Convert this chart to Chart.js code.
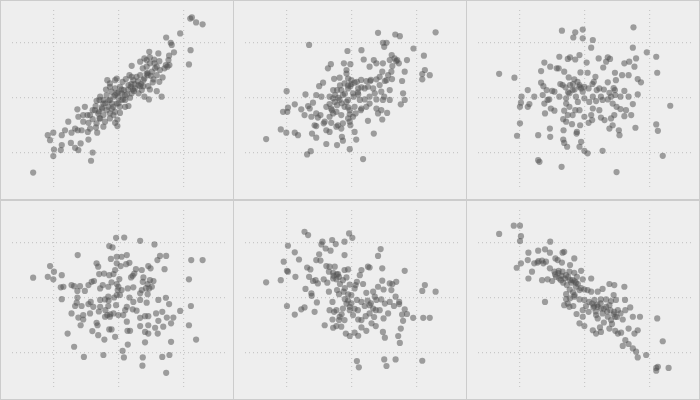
<!DOCTYPE html>
<html>
<head>
<meta charset="utf-8">
<script src="https://cdn.jsdelivr.net/npm/chart.js@4/dist/chart.umd.min.js"></script>
<style>
  html, body { margin: 0; padding: 0; background: #cccccc; }
  #wrap { position: relative; width: 700px; height: 400px; background: #cccccc; }
  .cell { position: absolute; width: 232px; height: 198px; background: #eeeeee; }
</style>
</head>
<body>
<div id="wrap"></div>
<script>
// grid ticks shown as dotted lines, no labels
const gridTicks = [-2, 0, 2];

// [x, y] values, left to right, top to bottom
const panel1 = [
  [2.21,2.88],[2.26,2.92],[2.39,2.74],[2.59,2.67],[1.90,2.34],[1.47,2.19],[1.61,2.0],[1.64,1.92],[2.22,1.73],[2.17,1.21],
  [1.71,1.65],[1.56,1.53],[1.23,1.61],[0.95,1.67],[0.80,1.43],[0.87,1.37],[1.10,1.39],[1.26,1.33],[0.97,1.25],[1.46,1.19],
  [1.51,1.13],[1.42,1.07],[1.57,1.19],[1.13,1.07],[1.03,0.95],[0.87,0.88],[0.75,1.07],[0.41,1.16],[0.56,0.76],[0.67,0.82],
  [0.90,0.82],[1.18,0.82],[1.36,0.74],[1.26,0.58],[1.06,0.56],[0.92,0.42],[0.77,0.42],[0.67,0.42],[0.72,0.28],[0.97,0.30],
  [1.18,0.24],[1.33,0.04],[0.94,-0.06],[0.80,0.04],[0.51,0.34],[0.41,0.16],[0.36,0],[0.26,0.12],[0.17,0.28],[0.05,0.40],
  [-0.05,0.70],[-0.34,0.64],[-0.26,0.40],[-0.10,0.34],[0.13,0.58],[0.34,0.82],[0.46,0.64],[0.62,0.46],[0.31,0.46],[0.10,-0.08],
  [0,0],[-0.05,-0.21],[-0.15,-0.33],[-0.26,-0.08],[-0.36,0.10],[-0.46,-0.08],[-0.58,-0.08],[-0.67,-0.11],[-0.51,-0.35],[-0.36,-0.45],
  [-0.26,-0.57],[-0.10,-0.51],[0.05,-0.55],[-0.03,-0.79],[-0.03,-1.03],[-0.10,-0.91],[-0.26,-0.75],[-0.46,-0.63],[-0.58,-0.75],[-0.79,-0.78],
  [-0.87,-0.63],[-0.79,-0.45],[-1.03,-0.33],[-1.26,-0.42],[-1.23,-0.69],[-1.08,-0.63],[-1.08,-0.87],[-0.92,-0.91],[-0.67,-0.93],[-0.69,-1.08],
  [-0.46,-1.05],[-0.65,-1.27],[-0.94,-1.24],[-1.13,-1.18],[-1.25,-1.18],[-1.33,-1.12],[-1.44,-1.27],[-1.54,-0.87],[-1.64,-1.18],[-1.74,-1.36],
  [-1.74,-1.72],[-2.0,-1.27],[-2.17,-1.36],[-2.10,-1.54],[-1.98,-1.88],[-2.0,-2.12],[-1.77,-1.90],[-1.46,-1.64],[-1.33,-1.82],[-1.23,-1.90],
  [-1.16,-1.66],[-0.92,-1.52],[-0.79,-1.99],[-0.84,-2.29],[-2.62,-2.72],[-0.56,0.04],[-0.46,-0.21],[-0.21,0.22],[-0.05,0.16],[0.10,0.16],
  [0.21,-0.08],[0.31,-0.30],[0.21,-0.33],[-0.15,0.04],[-0.38,0.30],[-0.26,0.52],[-0.10,0.64],[0.41,0.76],[0.77,0.64],[1.08,0.67],
  [1.28,1.01],[1.54,1.37],[1.11,1.25],[0.67,1.31],[0.97,1.47],[0.23,0.68],[0.48,0.25],[0.62,0.16],[0.05,-0.33],[-0.31,-0.33],
  [-0.62,-0.57],[-0.72,-0.45],[-0.56,-0.75],[-0.41,-0.87],[-0.87,-1.12],[-0.95,-0.63],[-0.15,-0.63],[0.38,0.40],[0.87,1.13],[1.18,1.13],
  [-0.40,-0.20],[-0.30,-0.10],[-0.20,-0.20],[0.00,0.20],[0.10,0.30],[0.20,0.10],[0.30,0.30],[0.40,0.50],[0.50,0.50],[0.60,0.60],
  [0.70,0.50],[0.80,0.70],[-0.50,-0.40],[-0.60,-0.50],[-0.70,-0.30],[-0.20,-0.40],[0.00,-0.20],[0.15,-0.05],[0.90,0.90],[1.00,0.80],
  [0.45,0.30],[-0.10,0.10]
];

const panel2 = [
  [-1.30,1.92],[0.82,2.36],[1.35,2.30],[1.49,2.24],[2.59,2.38],[0.97,2.0],[1.08,2.0],[1.01,1.85],[-0.12,1.70],[0.31,1.73],
  [1.91,1.79],[2.23,1.53],[1.24,1.55],[1.33,1.43],[1.41,1.37],[1.46,1.25],[1.71,1.37],[0.38,1.39],[0.69,1.37],[0.77,1.25],
  [0.97,1.25],[1.26,1.15],[-0.63,1.22],[-0.72,1.07],[-0.23,1.25],[-0.03,1.22],[0.56,1.13],[0.95,0.95],[1.23,0.95],[1.64,0.95],
  [2.26,1.01],[2.18,0.86],[2.41,0.82],[2.18,0.67],[1.56,0.61],[1.25,0.68],[1.13,0.82],[0.87,0.76],[0.77,0.67],[0.58,0.61],
  [0.46,0.61],[0.17,0.58],[-0.10,0.70],[-0.15,0.88],[-0.36,0.73],[-0.53,0.69],[-0.87,0.55],[-0.99,0.42],[-1.99,0.24],[-1.41,0.12],
  [-1.08,0.10],[-0.92,0.04],[-0.67,0.04],[-0.56,-0.02],[-0.44,0.28],[-0.31,0.28],[-0.10,0.34],[-0.03,0.42],[0.21,0.34],[0.31,0.38],
  [0.41,0.34],[0.51,0.40],[0.87,0.46],[1.03,0.61],[1.18,0.28],[0.92,0.22],[0.72,0.16],[0.56,0.04],[0.41,-0.06],[0.21,0.12],
  [0.07,0.04],[-0.10,-0.08],[-0.36,-0.08],[-0.51,-0.15],[-0.62,-0.39],[-0.77,-0.33],[-0.95,-0.63],[-1.08,-0.57],[-1.18,-0.18],[-1.33,-0.30],
  [-1.28,-0.39],[-1.44,-0.63],[-1.54,-0.42],[-1.74,-0.24],[-1.95,-0.36],[-2.10,-0.51],[-1.97,-0.51],[-1.23,-0.69],[-1.03,-0.72],[-0.85,-0.93],
  [-0.67,-0.69],[-0.56,-0.57],[-0.46,-0.51],[-0.21,-0.33],[-0.05,-0.45],[0.10,-0.33],[0.29,-0.45],[0.46,-0.33],[0.56,-0.21],[0.77,-0.39],
  [0.97,-0.08],[1.01,0.04],[1.18,-0.08],[1.59,0.16],[1.64,-0.08],[1.52,-0.24],[1.10,-0.55],[0.92,-0.45],[0.82,-0.57],[0.95,-0.79],
  [0.51,-0.84],[0.31,-0.39],[0.13,-0.57],[0.05,-0.69],[-0.05,-0.87],[-0.03,-1.0],[-0.26,-0.93],[-0.41,-1.0],[-0.62,-0.91],[-0.82,-0.87],
  [-1.13,-1.0],[-1.08,-1.03],[-0.77,-1.18],[-0.67,-1.24],[-0.46,-1.05],[-0.31,-1.12],[0.10,-1.24],[0.15,-1.52],[-0.26,-1.56],[-0.29,-1.42],
  [-0.44,-1.72],[-0.77,-1.68],[-1.08,-1.45],[-1.21,-1.30],[-1.64,-1.36],[-1.74,-1.27],[-2.0,-1.27],[-2.17,-1.15],[-2.62,-1.50],[-1.36,-2.06],
  [-1.25,-1.94],[-0.05,-1.87],[0.36,-2.23],[0.69,-1.30],[-0.15,-0.15],[-0.26,0.10],[-0.44,-0.27],[-0.67,-0.23],[-0.31,-0.63],[-0.10,-0.75],
  [0.05,0.16],[0.26,-0.08],[0.67,0.34],[0.77,-0.06],[1.08,0.64],[1.38,1.33],[1.18,1.37],[-0.56,0.28],[-0.21,0.52],[-0.15,1.01],
  [0,0.64],
  [-0.50,0.10],[-0.40,0.00],[-0.30,-0.20],[-0.20,0.15],[-0.10,0.45],[0.00,0.50],[0.10,0.55],[0.20,0.20],[-0.35,0.45],[-0.60,-0.45],
  [-0.10,-0.35],[0.30,0.65],[0.60,0.65],[-0.05,-0.60]
];

const panel3 = [
  [-0.69,2.44],[-0.28,2.38],[-0.05,2.48],[-0.34,2.19],[-0.05,2.16],[0.26,2.10],[0.21,1.82],[1.51,2.56],[1.49,1.82],[1.92,1.65],
  [2.21,1.49],[2.24,0.91],[-2.62,0.87],[-2.15,0.73],[-0.77,1.49],[-0.51,1.41],[-0.44,1.47],[-0.28,1.39],[-0.15,1.55],[0.07,1.28],
  [0.44,1.43],[0.72,1.47],[0.79,1.41],[0.67,1.31],[0.58,1.10],[1.23,1.25],[1.38,1.31],[1.59,1.43],[1.54,1.13],[-1.23,1.28],
  [-1.05,1.13],[-0.85,1.07],[-0.79,1.07],[-0.62,0.95],[-1.33,0.97],[-0.48,0.74],[-0.31,0.67],[-0.12,0.92],[0.10,0.91],[0.34,0.76],
  [0.29,0.58],[0.72,0.56],[0.94,0.91],[0.97,0.64],[1.16,0.82],[1.36,0.82],[1.64,0.68],[1.74,0.56],[-1.33,0.55],[-1.26,0.42],
  [-1.16,0.28],[-0.99,0.25],[-0.92,0.22],[-0.74,0.50],[-0.67,0.46],[-0.58,0.38],[-0.44,0.46],[-0.36,0.28],[-0.21,0.58],[-0.15,0.46],
  [-0.10,0.34],[-0.05,0.22],[0,0.40],[0.13,0.34],[0.38,0.28],[0.46,0.34],[0.51,0.04],[0.77,0.18],[0.82,0.04],[0.94,0.28],
  [0.95,0.10],[1.11,0.04],[1.23,0.25],[1.36,0.04],[1.64,0.12],[1.49,-0.23],[-1.74,0.28],[-1.93,0.04],[-1.54,0.04],[-1.28,0.10],
  [-1.08,-0.06],[-0.77,0.04],[-0.56,-0.02],[-0.46,0.16],[-0.26,0.04],[0,-0.02],[0.15,-0.15],[0.26,0.04],[0.36,-0.12],[0.56,-0.08],
  [0.72,-0.06],[0.87,-0.21],[0.99,-0.33],[1.11,-0.41],[1.28,-0.45],[1.44,-0.63],[1.23,-0.67],[0.92,-0.63],[0.82,-0.75],[0.62,-0.81],
  [0.51,-0.72],[0.46,-0.45],[0.26,-0.39],[0.21,-0.63],[0.24,-0.81],[0.13,-0.91],[0,-0.69],[-0.15,-0.45],[-0.28,-0.45],[-0.46,-0.33],
  [-0.56,-0.21],[-0.62,-0.47],[-0.65,-0.78],[-0.51,-0.63],[-0.36,-0.63],[-0.38,-0.96],[-0.56,-0.87],[-0.92,-0.47],[-1.03,-0.39],[-1.13,-0.08],
  [-1.23,-0.21],[-1.21,-0.57],[-1.69,-0.23],[-1.74,-0.33],[-1.98,-0.33],[-1.95,-0.18],[-1.98,-0.93],[-2.07,-1.38],[-1.42,-1.36],[-1.06,-1.12],
  [-1.05,-1.42],[-0.64,-1.18],[-0.23,-1.24],[-0.13,-1.0],[-0.24,-1.30],[-0.65,-1.52],[-0.62,-1.64],[-0.53,-1.78],[-0.10,-1.60],[-0.15,-1.78],
  [0,-1.93],[0.10,-2.02],[0.56,-1.93],[0.77,-1.12],[0.87,-1.0],[1.06,-1.18],[1.08,-1.36],[1.57,-1.09],[2.21,-0.97],[2.26,-1.20],
  [2.41,-2.11],[2.64,-0.29],[-1.42,-2.27],[-1.38,-2.33],[-0.70,-2.51],[0.99,-2.70],
  [-0.30,0.30],[-0.35,0.50],[-0.15,0.40],[0.25,0.50],[-0.50,0.20],[0.60,0.30],[0.90,0.35],[-0.20,-0.15]
];

const panel4 = [
  [-0.07,2.18],[0.18,2.19],[0.67,2.07],[1.11,1.94],[-0.28,1.88],[-0.18,1.83],[-1.25,1.55],[-0.23,1.41],[-0.05,1.49],[0.10,1.49],
  [0.26,1.55],[1.28,1.52],[1.47,1.52],[1.20,1.37],[2.24,1.37],[2.59,1.37],[-2.10,1.15],[-1.98,0.95],[-2.0,0.67],[-2.17,0.76],
  [-2.62,0.73],[-1.74,0.82],[-0.67,1.25],[-0.62,1.13],[-0.05,1.25],[0.07,1.15],[0.24,1.22],[0.34,1.27],[0.54,1.04],[0.72,1.01],
  [0.92,1.15],[0.99,1.07],[1.42,1.04],[2.17,0.67],[-0.59,0.86],[-0.44,0.88],[-0.28,0.82],[-0.10,1.01],[-0.15,0.86],[0.03,0.68],
  [0.39,0.74],[0.49,0.88],[0.44,0.80],[0.77,0.74],[0.75,0.58],[0.97,0.64],[1.08,0.61],[-0.75,0.61],[-0.82,0.58],[-0.92,0.46],
  [-1.18,0.42],[-1.44,0.46],[-1.69,0.40],[-1.77,0.38],[-1.36,0.42],[-1.26,0.25],[-1.03,0.25],[-0.56,0.34],[-0.48,0.46],[-0.31,0.40],
  [-0.21,0.56],[-0.05,0.50],[-0.02,0.28],[0.10,0.28],[0.29,0.34],[0.46,0.38],[0.72,0.28],[0.95,0.34],[1.03,0.40],[0.67,0.16],
  [0.90,0.13],[0.87,-0.18],[1.23,-0.08],[1.46,0],[1.56,-0.23],[-1.74,-0.05],[-1.26,0.01],[-1.28,-0.18],[-0.85,-0.15],[-0.56,-0.08],
  [-0.41,-0.06],[-0.31,0.04],[-0.13,0.01],[0.05,0.10],[0.34,0.01],[0.46,-0.15],[0.67,-0.08],[-1.44,-0.57],[-1.33,-0.30],[-1.13,-0.30],
  [-0.92,-0.23],[-0.77,-0.33],[-0.56,-0.33],[-0.31,-0.30],[-0.07,-0.27],[0.21,-0.45],[0.26,-0.33],[0.44,-0.42],[0.56,-0.47],[-0.87,-0.57],
  [-1.08,-0.63],[-1.23,-0.72],[-1.08,-0.79],[-1.16,-1.0],[-0.67,-0.91],[-0.64,-1.0],[-0.41,-0.69],[-0.34,-0.63],[-0.26,-0.69],[-0.15,-0.57],
  [0,-0.63],[0.15,-0.63],[0.67,-0.73],[0.82,-0.67],[0.92,-0.67],[1.16,-0.57],[1.35,-0.51],[1.49,-0.72],[1.69,-0.72],[1.90,-0.48],
  [2.23,-0.30],[1.23,-0.84],[0.92,-1.0],[0.67,-1.03],[0.26,-0.87],[1.13,-1.09],[1.38,-1.05],[1.62,-0.93],[2.17,-1.0],[2.39,-1.52],
  [1.62,-1.60],[0.82,-1.62],[0.92,-1.30],[0.82,-1.24],[1.21,-1.30],[0.28,-1.20],[0.36,-1.20],[-0.28,-1.15],[-0.21,-1.15],[-0.10,-1.42],
  [-0.43,-1.52],[-0.62,-1.36],[-0.80,-1.21],[-1.56,-1.30],[-1.36,-1.78],[-1.06,-2.15],[-0.46,-2.08],[0.13,-1.93],[0.29,-1.70],[0.17,-2.17],
  [0.75,-2.17],[0.74,-2.47],[1.35,-2.15],[1.57,-2.08],[1.47,-2.73],
  [-0.30,-0.10],[-0.40,-0.45],[-0.60,-0.50],[0.00,0.40],[0.90,0.50],[0.85,0.35],[-0.25,-0.60],[-0.05,0.10]
];

const panel5 = [
  [-1.44,2.40],[-1.33,2.28],[-0.07,2.34],[0.03,2.18],[-0.89,2.04],[-0.92,1.94],[-0.59,2.10],[-0.48,1.95],[-0.21,2.04],[-1.95,1.89],
  [-0.79,1.79],[-0.64,1.71],[-1.74,1.65],[-1.61,1.39],[-2.08,1.31],[-0.99,1.58],[-1.08,1.37],[-0.95,1.35],[-0.21,1.55],[0.90,1.77],
  [0.82,1.52],[-1.36,1.10],[-1.26,1.03],[-1.98,0.98],[-1.95,0.95],[-1.72,0.76],[-2.17,0.64],[-2.62,0.56],[-0.77,1.15],[-0.67,1.13],
  [-0.51,1.13],[-0.69,0.95],[-0.56,0.91],[-0.41,0.86],[-0.21,1.01],[-0.10,1.03],[0.31,1.01],[0.51,1.13],[0.56,1.10],[0.95,1.07],
  [1.64,0.98],[-1.30,0.76],[-1.18,0.61],[-1.10,0.64],[-1.03,0.52],[-0.85,0.67],[-0.74,0.55],[-0.56,0.70],[-0.46,0.67],[-0.38,0.76],
  [-0.26,0.64],[-0.15,0.74],[-0.05,0.48],[0.13,0.46],[0.17,0.58],[0.26,0.82],[0.36,0.50],[0.46,0.18],[0.67,0.22],[0.82,0.40],
  [0.95,0.62],[0.99,0.30],[1.18,0.52],[1.26,0.50],[1.38,0.58],[1.23,0.28],[-1.41,0.32],[-1.23,0.16],[-1.22,0.07],[-0.69,0.22],
  [-0.44,0.28],[-0.38,0.13],[-0.24,0.22],[-0.10,0.12],[0,0.10],[0.10,0.34],[0.17,-0.08],[0.31,-0.15],[0.41,-0.30],[0.56,-0.27],
  [0.72,0.04],[0.77,-0.08],[0.92,-0.06],[1.03,-0.21],[1.18,-0.15],[1.36,0.04],[1.47,-0.15],[1.64,-0.42],[1.71,-0.59],[1.56,-0.61],
  [1.59,-0.84],[1.90,-0.73],[2.21,-0.73],[2.41,-0.73],[2.26,0.46],[2.18,0.25],[2.59,0.22],[1.47,-0.23],[1.31,-0.30],[1.13,-0.57],
  [0.99,-0.75],[0.87,-0.45],[0.67,-0.39],[0.56,-0.57],[0.44,-0.67],[0.31,-0.81],[0.21,-0.79],[0.05,-0.63],[-0.05,-0.33],[-0.15,-0.21],
  [-0.26,-0.39],[-0.46,-0.45],[-0.58,-0.15],[-0.67,-0.45],[-0.53,-0.51],[-0.36,-0.69],[-0.21,-0.81],[-0.38,-0.81],[-0.58,-0.79],[-0.82,-1.0],
  [-0.56,-1.09],[-0.46,-1.03],[-0.31,-1.05],[-0.17,-1.30],[-0.05,-1.39],[0.10,-1.27],[0.21,-1.38],[0.31,-1.08],[0.46,-1.20],[0.62,-0.93],
  [0.75,-1.03],[0.97,-1.24],[1.03,-1.45],[1.44,-1.39],[1.49,-1.64],[1.52,-1.12],[-1.06,-0.17],[-1.13,-0.51],[-1.44,-0.35],[-1.54,-0.42],
  [-1.74,-0.61],[-1.98,-0.30],[0.17,-2.30],[0.23,-2.53],[1.01,-2.24],[1.08,-2.48],[1.36,-2.24],[2.18,-2.29],
  [-0.10,-0.10],[0.00,-0.20],[-0.05,-0.45],[0.10,-0.40],[-0.20,-0.05],[-0.20,0.35],[-0.35,0.50],[-0.55,0.80],[-0.45,0.85],[0.50,-0.10],
  [0.60,-0.20],[0.75,-0.45],[0.70,-0.70],[-0.30,-0.60],[0.20,-0.45]
];

const panel6 = [
  [-2.17,2.62],[-1.98,2.62],[-2.62,2.32],[-1.95,2.24],[-1.98,2.06],[-1.05,2.04],[-1.72,1.64],[-1.42,1.71],[-1.21,1.76],[-1.06,1.64],
  [-0.62,1.67],[-0.67,1.64],[-1.74,1.37],[-1.54,1.25],[-1.41,1.33],[-1.30,1.35],[-1.18,1.31],[-0.89,1.43],[-0.82,1.37],[-0.69,1.28],
  [-0.44,1.19],[-0.31,1.43],[-1.95,1.25],[-2.08,1.09],[-1.61,0.95],[-1.72,0.70],[-1.30,0.64],[-1.06,1.07],[-0.92,0.95],[-0.79,0.98],
  [-0.67,0.95],[-0.56,0.82],[-0.46,0.95],[-0.31,0.91],[-0.10,0.98],[-0.23,0.76],[-0.36,0.64],[-0.05,0.67],[0.21,0.70],[-1.13,0.67],
  [-0.99,0.61],[-0.77,0.70],[-0.65,0.55],[-0.54,0.46],[-0.44,0.64],[-0.26,0.55],[-0.15,0.28],[0,0.30],[0.10,0.28],[0.21,0.22],
  [0.41,0.22],[0.56,0.32],[0.77,0.50],[0.92,0.46],[1.23,0.40],[0.90,0.10],[0.97,-0.08],[1.25,-0.08],[0.82,-0.12],[0.67,-0.06],
  [0.51,-0.06],[0.31,-0.08],[0.24,-0.21],[0.15,-0.15],[0,-0.08],[-0.15,-0.06],[-0.31,0.04],[-0.44,-0.02],[-0.56,0.13],[-0.56,-0.05],
  [-0.51,-0.21],[-0.62,-0.27],[-0.46,-0.33],[-0.34,-0.30],[-0.24,-0.59],[-0.05,-0.45],[0.05,-0.30],[0.13,-0.51],[0.28,-0.35],[0.41,-0.33],
  [0.51,-0.39],[0.67,-0.33],[0.77,-0.27],[0.92,-0.51],[1.03,-0.45],[1.11,-0.57],[1.26,-0.45],[1.41,-0.35],[1.49,-0.69],[1.71,-0.69],
  [1.18,-0.79],[0.95,-0.69],[0.82,-0.81],[0.72,-0.69],[0.56,-0.57],[0.41,-0.75],[0.36,-0.63],[-0.05,-0.69],[-0.15,-0.93],[0,-1.03],
  [0.26,-1.18],[0.36,-1.30],[0.48,-1.08],[0.51,-1.24],[0.77,-1.12],[0.95,-1.20],[1.03,-1.30],[1.13,-1.27],[1.36,-1.12],[1.54,-1.30],
  [1.64,-1.18],[1.26,-1.54],[1.36,-1.68],[1.18,-1.75],[1.49,-1.84],[1.59,-1.96],[1.64,-2.17],[1.90,-2.08],[2.24,-0.75],[2.41,-1.58],
  [2.21,-2.55],[2.26,-2.51],[2.59,-2.55],[2.21,-2.65],[-1.21,-0.15],[-1.26,1.25],[-1.44,1.28],[-0.87,0.76],[-0.72,0.64],[-0.26,0.40],
  [-0.90,0.85],[-0.80,0.90],[-0.70,0.80],[-0.60,0.70],[-0.50,0.75],[-0.40,0.55],[-0.30,0.60],[-0.20,0.50],[-0.10,0.35],[-0.35,0.20],
  [-0.30,0.10],[0.30,-0.30],[0.40,-0.25],[0.50,-0.20],[0.60,-0.40],[0.70,-0.50],[0.80,-0.45],[0.90,-0.60],[1.00,-0.70],[0.60,-0.90],
  [0.85,-0.95],[0.35,-0.50],[-0.45,0.30]
];

const panels = [panel1, panel2, panel3, panel4, panel5, panel6];

const wrap = document.getElementById('wrap');

panels.forEach((pts, i) => {
  const col = i % 3;
  const row = Math.floor(i / 3);

  const cell = document.createElement('div');
  cell.className = 'cell';
  cell.style.left = (1 + col * 233) + 'px';
  cell.style.top = (1 + row * 200) + 'px';
  const canvas = document.createElement('canvas');
  canvas.width = 232;
  canvas.height = 198;
  cell.appendChild(canvas);
  wrap.appendChild(cell);

  const gridOpts = {
    color: '#c8c8c8',
    lineWidth: 1.2,
    drawTicks: false
  };

  new Chart(canvas, {
    type: 'scatter',
    data: {
      datasets: [{
        data: pts.map(p => ({ x: p[0], y: p[1] })),
        backgroundColor: 'rgba(80,80,80,0.52)',
        borderWidth: 0,
        pointRadius: 3.1,
        pointHoverRadius: 3.1,
        clip: false
      }]
    },
    options: {
      responsive: false,
      animation: false,
      events: [],
      layout: { padding: { left: 11, right: 6, top: 9, bottom: 11 } },
      plugins: { legend: { display: false }, tooltip: { enabled: false } },
      scales: {
        x: {
          type: 'linear',
          min: -3.27,
          max: 3.34,
          afterBuildTicks: axis => { axis.ticks = gridTicks.map(v => ({ value: v })); },
          ticks: { display: false },
          border: { display: false, dash: [1, 3] },
          grid: gridOpts
        },
        y: {
          type: 'linear',
          min: -3.28,
          max: 3.19,
          afterBuildTicks: axis => { axis.ticks = gridTicks.map(v => ({ value: v })); },
          ticks: { display: false },
          border: { display: false, dash: [1, 3] },
          grid: gridOpts
        }
      }
    }
  });
});
</script>
</body>
</html>
